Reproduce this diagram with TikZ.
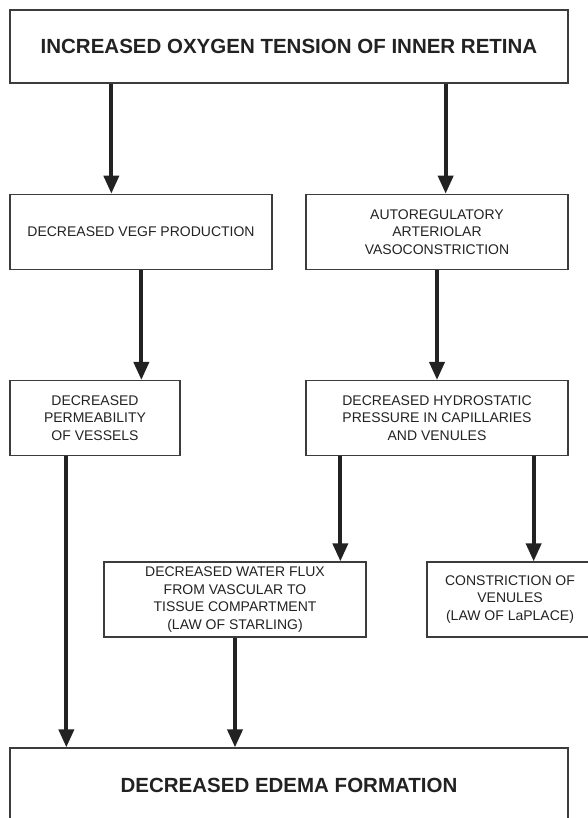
\documentclass[tikz,border=0pt]{standalone}
\usepackage{fontspec}
\setmainfont{Liberation Sans}
\usepackage{tikz}
\usetikzlibrary{arrows.meta,positioning}
\definecolor{edge}{HTML}{3C3C3C}
\definecolor{ink}{HTML}{222222}
\begin{document}
\begin{tikzpicture}[x=1pt, y=1pt, node distance=110pt and 34pt, box/.style={draw=edge,line width=1.3pt,align=center,inner sep=0pt,minimum height=75pt,text=ink,font=\fontsize{14}{17.5}\selectfont}, big/.style={box,font=\bfseries\fontsize{20.5}{24}\selectfont}, arr/.style={-{Triangle[length=18pt,width=15pt]},line width=3.8pt,draw=ink,fill=ink}]
\useasboundingbox (0,0) rectangle (587,-818);
\node[big,minimum width=558pt,minimum height=73pt] (top) at (289,-46.5) {INCREASED OXYGEN TENSION OF INNER RETINA};
\node[box,minimum width=262pt,below=of top.south west,anchor=north west] (vegf) {DECREASED VEGF PRODUCTION};
\node[box,minimum width=262pt,below=of top.south east,anchor=north east] (auto) {AUTOREGULATORY\\ARTERIOLAR\\VASOCONSTRICTION};
\node[box,minimum width=170pt,below=of vegf.south west,anchor=north west] (perm) {DECREASED\\PERMEABILITY\\OF VESSELS};
\node[box,minimum width=262pt,below=of auto] (hydro) {DECREASED HYDROSTATIC\\PRESSURE IN CAPILLARIES\\AND VENULES};
\node[box,minimum width=262pt] (water) at (235,-599.5) {DECREASED WATER FLUX\\FROM VASCULAR TO\\TISSUE COMPARTMENT\\(LAW OF STARLING)};
\node[box,minimum width=166pt] (constr) at (510,-599.5) {CONSTRICTION OF\\VENULES\\(LAW OF LaPLACE)};
\node[big,minimum width=558pt] (edema) at (289,-785.5) {DECREASED EDEMA FORMATION};
\draw[arr] ([xshift=102pt]top.south west) coordinate (a) -- (a |- vegf.north);
\draw[arr] ([xshift=-123pt]top.south east) coordinate (b) -- (b |- auto.north);
\draw[arr] ([xshift=132pt]vegf.south west) coordinate (c) -- (c |- perm.north);
\draw[arr] (auto.south) -- (hydro.north);
\draw[arr] ([xshift=57pt]perm.south west) coordinate (d) -- (d |- edema.north);
\draw[arr] ([xshift=35pt]hydro.south west) coordinate (e) -- (e |- water.north);
\draw[arr] ([xshift=-35pt]hydro.south east) coordinate (f) -- (f |- constr.north);
\draw[arr] (water.south) -- (water.south |- edema.north);
\end{tikzpicture}
\end{document}
